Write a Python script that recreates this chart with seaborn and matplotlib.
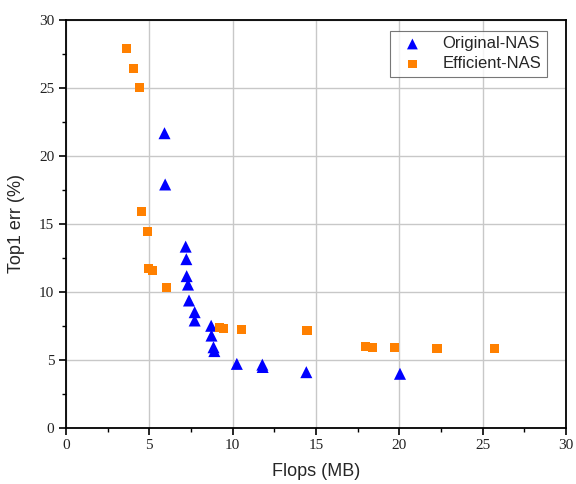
import matplotlib
matplotlib.use("Agg")
import matplotlib.pyplot as plt
import seaborn as sns
import pandas as pd
from matplotlib.ticker import MultipleLocator

orig_flops = [5.91, 5.95, 7.18, 7.22, 7.24, 7.32, 7.38, 7.72, 7.72, 8.71, 8.73,
              8.85, 8.90, 10.25, 11.78, 11.80, 14.42, 20.04]
orig_err = [21.64, 17.87, 13.30, 12.38, 11.13, 10.51, 9.34, 8.48, 7.87, 7.48, 6.76,
            5.90, 5.62, 4.68, 4.62, 4.45, 4.07, 3.95]

eff_flops = [3.63, 4.05, 4.40, 4.52, 4.88, 4.94, 5.18, 6.01, 9.23, 9.46, 10.54,
             14.46, 17.98, 18.39, 19.70, 22.26, 25.71]
eff_err = [27.87, 26.40, 25.00, 15.88, 14.41, 11.69, 11.54, 10.29, 7.35, 7.28, 7.21,
           7.13, 5.96, 5.88, 5.88, 5.81, 5.81]

series_names = ["Original-NAS", "Efficient-NAS"]

df = pd.concat([
    pd.DataFrame({"Flops": orig_flops, "Err": orig_err, "Method": series_names[0]}),
    pd.DataFrame({"Flops": eff_flops, "Err": eff_err, "Method": series_names[1]}),
], ignore_index=True)

sns.set_style("white")

fig = plt.figure(figsize=(5.76, 4.84), dpi=100)
ax = fig.add_axes([0.1146, 0.1167, 0.868, 0.843])

ax.grid(True, which="major", color="#c8c8c8", linewidth=1.0, zorder=0)
ax.set_axisbelow(True)

sns.scatterplot(data=df[df.Method == series_names[0]], x="Flops", y="Err",
                marker="^", color="#0000ff", s=75, edgecolor="none",
                label=series_names[0], ax=ax, zorder=3)
sns.scatterplot(data=df[df.Method == series_names[1]], x="Flops", y="Err",
                marker="s", color="#ff8000", s=45, edgecolor="none",
                label=series_names[1], ax=ax, zorder=3)

ax.set_xlim(0, 30)
ax.set_ylim(0, 30)
ax.xaxis.set_major_locator(MultipleLocator(5))
ax.xaxis.set_minor_locator(MultipleLocator(2.5))
ax.yaxis.set_major_locator(MultipleLocator(5))
ax.yaxis.set_minor_locator(MultipleLocator(2.5))

for sp in ax.spines.values():
    sp.set_color("black")
    sp.set_linewidth(1.3)
    sp.set_visible(True)

ax.tick_params(which="major", direction="out", length=5, width=1.2,
               bottom=True, left=True, top=False, right=False, colors="black")
ax.tick_params(which="minor", direction="out", length=3, width=1.0,
               bottom=True, left=True, top=False, right=False, colors="black")

for lab in ax.get_xticklabels() + ax.get_yticklabels():
    lab.set_family("Liberation Serif")
    lab.set_fontsize(11)
    lab.set_color("#222222")

ax.set_xlabel("Flops (MB)", fontsize=13, family="Liberation Sans", labelpad=8)
ax.set_ylabel("Top1 err (%)", fontsize=13, family="Liberation Sans", labelpad=10)

leg = ax.legend(loc="upper right", frameon=True, fancybox=False,
                prop={"family": "Liberation Sans", "size": 12},
                borderpad=0.35, handletextpad=0.8, labelspacing=0.3,
                borderaxespad=0.0,
                bbox_to_anchor=(0.962, 0.973), markerscale=0.9)
leg.get_frame().set_edgecolor("#555555")
leg.get_frame().set_linewidth(0.8)

fig.savefig("out.png", dpi=100)
